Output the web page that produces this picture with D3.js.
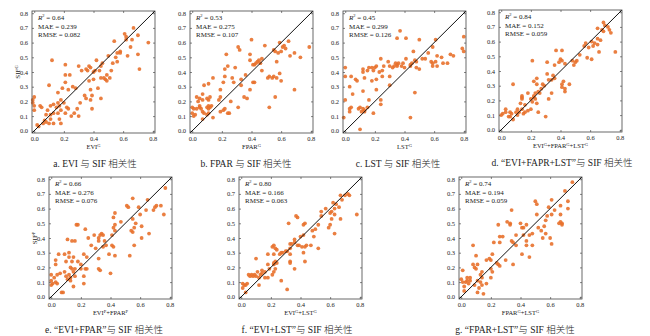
<!DOCTYPE html>
<html>
<head>
<meta charset="utf-8">
<script src="https://cdn.jsdelivr.net/npm/d3@7"></script>
<style>
  html, body { margin: 0; padding: 0; background: #fff; }
  svg { display: block; }
  text { font-family: "Liberation Serif", "Noto Sans CJK SC", serif; fill: #222; }
</style>
</head>
<body>
<svg id="chart" width="650" height="336"></svg>
<script>
// Observed vs. predicted SIF for each predictor combination, [predicted, observed]
const ptsEVI = [[0.77,0.60],[0.70,0.65],[0.67,0.70],[0.61,0.66],[0.62,0.64],[0.62,0.62],[0.65,0.57],[0.66,0.62],[0.70,0.52],[0.71,0.42],[0.63,0.51],[0.54,0.61],[0.58,0.54],[0.58,0.53],[0.56,0.53],[0.55,0.50],[0.56,0.47],[0.53,0.46],[0.50,0.51],[0.46,0.46],[0.45,0.44],[0.42,0.48],[0.41,0.41],[0.40,0.40],[0.44,0.41],[0.37,0.44],[0.38,0.43],[0.35,0.42],[0.36,0.41],[0.32,0.41],[0.30,0.44],[0.37,0.34],[0.40,0.35],[0.45,0.36],[0.48,0.35],[0.49,0.34],[0.51,0.36],[0.49,0.38],[0.43,0.29],[0.38,0.28],[0.39,0.24],[0.38,0.21],[0.35,0.22],[0.45,0.22],[0.39,0.15],[0.31,0.19],[0.26,0.30],[0.28,0.29],[0.23,0.28],[0.21,0.45],[0.21,0.38],[0.24,0.38],[0.21,0.33],[0.19,0.29],[0.16,0.26],[0.10,0.31],[0.12,0.48],[0.18,0.21],[0.16,0.19],[0.13,0.18],[0.11,0.17],[0.15,0.16],[0.17,0.17],[0.20,0.19],[0.22,0.16],[0.23,0.15],[0.25,0.10],[0.21,0.12],[0.18,0.14],[0.16,0.12],[0.13,0.12],[0.11,0.11],[0.09,0.14],[0.08,0.11],[0.11,0.08],[0.13,0.05],[0.18,0.05],[0.17,0.08],[0.07,0.07],[0.06,0.05],[0.03,0.03],[0.02,0.04],[0.04,0.17],[0.05,0.16],[-0.01,0.21],[-0.01,0.19],[0.00,0.14],[0.00,0.17],[0.00,0.23],[0.08,0.06],[0.10,0.05],[0.29,0.15],[0.30,0.10],[0.27,0.12],[0.34,0.24],[0.52,0.41],[0.47,0.36]];
const ptsFPAR = [[0.79,0.57],[0.73,0.50],[0.69,0.53],[0.66,0.51],[0.69,0.28],[0.65,0.61],[0.61,0.57],[0.62,0.58],[0.59,0.60],[0.60,0.54],[0.63,0.56],[0.58,0.53],[0.56,0.54],[0.55,0.55],[0.57,0.47],[0.59,0.39],[0.60,0.34],[0.57,0.36],[0.55,0.37],[0.54,0.36],[0.52,0.37],[0.51,0.36],[0.52,0.16],[0.56,0.23],[0.47,0.41],[0.49,0.58],[0.47,0.49],[0.45,0.48],[0.46,0.46],[0.44,0.47],[0.43,0.46],[0.42,0.45],[0.41,0.45],[0.39,0.48],[0.39,0.52],[0.40,0.62],[0.41,0.33],[0.39,0.28],[0.42,0.33],[0.37,0.22],[0.35,0.23],[0.36,0.38],[0.33,0.35],[0.33,0.31],[0.31,0.57],[0.32,0.55],[0.29,0.43],[0.28,0.33],[0.27,0.36],[0.31,0.16],[0.26,0.20],[0.25,0.12],[0.24,0.12],[0.22,0.15],[0.22,0.42],[0.24,0.44],[0.23,0.52],[0.22,0.37],[0.21,0.33],[0.19,0.28],[0.19,0.23],[0.18,0.21],[0.19,0.13],[0.21,0.14],[0.14,0.36],[0.08,0.31],[0.07,0.25],[0.11,0.32],[0.12,0.23],[0.11,0.21],[0.10,0.22],[0.07,0.21],[0.05,0.22],[0.04,0.20],[0.03,0.23],[0.11,0.17],[0.10,0.16],[0.12,0.16],[0.11,0.15],[0.13,0.17],[0.14,0.09],[0.11,0.12],[0.07,0.13],[0.08,0.12],[0.06,0.15],[0.05,0.16],[0.01,0.15],[0.00,0.16],[0.00,0.12],[0.01,0.10],[0.02,0.11],[0.07,0.08],[0.10,0.11],[0.05,0.17],[0.03,0.15]];
const ptsLST = [[0.80,0.64],[0.79,0.56],[0.80,0.54],[0.73,0.51],[0.71,0.52],[0.69,0.46],[0.66,0.46],[0.65,0.50],[0.62,0.51],[0.61,0.47],[0.59,0.46],[0.59,0.44],[0.62,0.44],[0.58,0.47],[0.59,0.57],[0.61,0.62],[0.56,0.53],[0.54,0.49],[0.52,0.49],[0.50,0.62],[0.50,0.42],[0.48,0.43],[0.48,0.47],[0.47,0.48],[0.45,0.46],[0.44,0.45],[0.44,0.44],[0.46,0.54],[0.47,0.26],[0.44,0.09],[0.41,0.49],[0.40,0.43],[0.39,0.46],[0.38,0.44],[0.37,0.68],[0.35,0.63],[0.41,0.63],[0.36,0.46],[0.35,0.45],[0.35,0.44],[0.34,0.46],[0.33,0.44],[0.32,0.43],[0.30,0.44],[0.30,0.37],[0.29,0.47],[0.26,0.44],[0.25,0.41],[0.24,0.49],[0.25,0.37],[0.23,0.40],[0.21,0.44],[0.20,0.43],[0.19,0.41],[0.18,0.43],[0.18,0.34],[0.21,0.35],[0.21,0.28],[0.24,0.21],[0.24,0.18],[0.19,0.12],[0.16,0.43],[0.15,0.41],[0.13,0.36],[0.12,0.42],[0.12,0.40],[0.12,0.27],[0.16,0.21],[0.15,0.16],[0.13,0.14],[0.12,0.15],[0.11,0.13],[0.13,0.13],[0.10,0.01],[0.07,0.35],[0.08,0.34],[0.04,0.37],[0.03,0.15],[0.04,0.16],[0.03,0.13],[0.03,0.30],[0.05,0.25],[0.00,0.43],[0.00,0.37],[-0.01,0.09],[0.00,0.21],[0.09,0.15],[0.10,0.16],[0.30,0.31]];
const ptsEFL = [[0.77,0.53],[0.73,0.68],[0.74,0.66],[0.72,0.70],[0.69,0.73],[0.70,0.71],[0.68,0.68],[0.69,0.67],[0.67,0.61],[0.65,0.58],[0.65,0.62],[0.65,0.69],[0.66,0.53],[0.63,0.59],[0.62,0.57],[0.61,0.60],[0.59,0.56],[0.58,0.49],[0.61,0.48],[0.57,0.59],[0.56,0.57],[0.53,0.51],[0.51,0.47],[0.49,0.44],[0.50,0.46],[0.48,0.47],[0.46,0.31],[0.43,0.28],[0.43,0.26],[0.41,0.29],[0.41,0.31],[0.42,0.33],[0.43,0.45],[0.41,0.47],[0.41,0.54],[0.40,0.48],[0.39,0.46],[0.37,0.54],[0.36,0.44],[0.35,0.37],[0.36,0.35],[0.34,0.34],[0.34,0.25],[0.32,0.21],[0.31,0.38],[0.32,0.34],[0.31,0.46],[0.30,0.09],[0.28,0.31],[0.29,0.30],[0.27,0.28],[0.26,0.25],[0.25,0.26],[0.24,0.31],[0.23,0.21],[0.22,0.23],[0.23,0.25],[0.22,0.22],[0.20,0.21],[0.21,0.47],[0.22,0.33],[0.24,0.35],[0.21,0.19],[0.24,0.18],[0.25,0.12],[0.18,0.25],[0.16,0.17],[0.14,0.23],[0.14,0.22],[0.14,0.21],[0.13,0.18],[0.14,0.14],[0.11,0.14],[0.10,0.12],[0.08,0.31],[0.11,0.10],[0.07,0.11],[0.06,0.09],[0.05,0.09],[0.06,0.12],[0.03,0.12],[0.03,0.14],[0.01,0.11],[0.00,0.10],[0.08,0.07],[0.18,0.13],[0.16,0.12],[0.20,0.14],[0.12,0.12],[0.15,0.11]];
const ptsEF = [[0.77,0.74],[0.76,0.56],[0.74,0.62],[0.71,0.62],[0.70,0.61],[0.69,0.59],[0.65,0.66],[0.64,0.59],[0.66,0.43],[0.61,0.40],[0.61,0.48],[0.60,0.56],[0.59,0.61],[0.57,0.50],[0.56,0.47],[0.55,0.44],[0.54,0.45],[0.55,0.53],[0.55,0.67],[0.52,0.61],[0.51,0.62],[0.56,0.35],[0.53,0.28],[0.47,0.51],[0.43,0.57],[0.42,0.54],[0.43,0.49],[0.42,0.47],[0.43,0.45],[0.41,0.42],[0.41,0.35],[0.42,0.34],[0.43,0.28],[0.39,0.29],[0.40,0.16],[0.37,0.35],[0.36,0.38],[0.35,0.34],[0.34,0.43],[0.35,0.42],[0.33,0.42],[0.32,0.40],[0.32,0.38],[0.30,0.33],[0.32,0.26],[0.32,0.19],[0.33,0.18],[0.29,0.42],[0.27,0.35],[0.25,0.40],[0.23,0.46],[0.22,0.29],[0.23,0.19],[0.24,0.19],[0.22,0.14],[0.22,0.09],[0.20,0.22],[0.18,0.24],[0.17,0.49],[0.18,0.49],[0.16,0.38],[0.14,0.38],[0.15,0.27],[0.14,0.24],[0.11,0.39],[0.12,0.30],[0.12,0.27],[0.10,0.24],[0.09,0.29],[0.13,0.20],[0.14,0.19],[0.15,0.17],[0.16,0.14],[0.16,0.19],[0.12,0.15],[0.10,0.14],[0.11,0.12],[0.13,0.13],[0.13,0.11],[0.09,0.17],[0.06,0.16],[0.05,0.29],[0.03,0.25],[0.03,0.22],[0.04,0.15],[0.02,0.13],[0.00,0.15],[0.00,0.11],[0.01,0.09],[0.00,0.08],[0.03,0.10],[0.04,0.09],[0.07,0.03],[0.08,0.03],[0.15,0.07],[0.20,0.19],[0.24,0.27]];
const ptsEL = [[0.78,0.56],[0.73,0.69],[0.72,0.70],[0.70,0.69],[0.67,0.69],[0.68,0.66],[0.64,0.63],[0.66,0.61],[0.63,0.60],[0.61,0.58],[0.60,0.57],[0.62,0.64],[0.67,0.53],[0.63,0.56],[0.61,0.53],[0.60,0.49],[0.59,0.47],[0.63,0.43],[0.57,0.60],[0.54,0.58],[0.54,0.55],[0.52,0.49],[0.50,0.46],[0.49,0.41],[0.48,0.45],[0.52,0.33],[0.47,0.35],[0.44,0.35],[0.43,0.34],[0.42,0.30],[0.43,0.24],[0.41,0.34],[0.39,0.35],[0.38,0.35],[0.43,0.50],[0.42,0.49],[0.42,0.42],[0.40,0.41],[0.38,0.54],[0.37,0.55],[0.36,0.39],[0.36,0.37],[0.34,0.36],[0.33,0.36],[0.33,0.33],[0.31,0.31],[0.32,0.50],[0.33,0.29],[0.33,0.24],[0.33,0.23],[0.36,0.19],[0.31,0.05],[0.30,0.31],[0.28,0.30],[0.27,0.30],[0.26,0.29],[0.24,0.32],[0.23,0.33],[0.22,0.35],[0.21,0.34],[0.22,0.29],[0.23,0.24],[0.22,0.22],[0.22,0.23],[0.24,0.23],[0.23,0.19],[0.22,0.17],[0.21,0.15],[0.18,0.22],[0.18,0.29],[0.18,0.13],[0.16,0.17],[0.14,0.18],[0.14,0.16],[0.13,0.15],[0.12,0.13],[0.11,0.17],[0.10,0.14],[0.10,0.26],[0.12,0.08],[0.09,0.15],[0.08,0.14],[0.07,0.15],[0.06,0.14],[0.05,0.15],[0.04,0.09],[0.03,0.08],[0.01,0.09],[0.01,0.06],[0.02,0.08],[0.03,0.03],[0.27,0.11],[0.16,0.13],[0.19,0.19]];
const ptsFL = [[0.75,0.78],[0.70,0.72],[0.72,0.65],[0.72,0.60],[0.67,0.62],[0.67,0.56],[0.68,0.50],[0.68,0.49],[0.67,0.51],[0.66,0.50],[0.63,0.59],[0.61,0.66],[0.59,0.61],[0.61,0.56],[0.58,0.55],[0.57,0.52],[0.56,0.48],[0.60,0.40],[0.61,0.36],[0.57,0.43],[0.55,0.40],[0.54,0.45],[0.52,0.47],[0.51,0.63],[0.50,0.65],[0.51,0.56],[0.48,0.43],[0.46,0.42],[0.48,0.35],[0.44,0.38],[0.44,0.35],[0.46,0.27],[0.41,0.29],[0.41,0.47],[0.42,0.47],[0.44,0.49],[0.40,0.50],[0.42,0.42],[0.37,0.42],[0.37,0.35],[0.35,0.37],[0.34,0.38],[0.34,0.59],[0.33,0.49],[0.33,0.50],[0.31,0.51],[0.35,0.22],[0.30,0.25],[0.28,0.41],[0.26,0.41],[0.26,0.37],[0.25,0.49],[0.22,0.37],[0.25,0.22],[0.26,0.21],[0.24,0.23],[0.21,0.29],[0.20,0.25],[0.19,0.26],[0.20,0.19],[0.21,0.17],[0.20,0.13],[0.17,0.25],[0.17,0.09],[0.15,0.02],[0.14,0.13],[0.14,0.17],[0.13,0.15],[0.13,0.10],[0.14,0.08],[0.12,0.06],[0.11,0.11],[0.11,0.22],[0.10,0.19],[0.10,0.28],[0.09,0.20],[0.08,0.22],[0.08,0.35],[0.06,0.13],[0.06,0.11],[0.04,0.11],[0.04,0.13],[0.03,0.10],[0.05,0.09],[0.02,0.07],[0.02,0.04],[0.01,0.18],[0.00,0.12],[0.01,0.10],[0.09,0.08],[0.11,0.03]];

const panelTitles = [
  "a. EVI 与 SIF 相关性",
  "b. FPAR 与 SIF 相关性",
  "c. LST 与 SIF 相关性",
  "d. “EVI+FAPR+LST”与 SIF 相关性",
  "e. “EVI+FPAR”与 SIF 相关性",
  "f. “EVI+LST”与 SIF 相关性",
  "g. “FPAR+LST”与 SIF 相关性"
];
// x-axis label terms: [base, superscript]
const xLabelTerms = [
  [["EVI","G"]],
  [["FPAR","G"]],
  [["LST","G"]],
  [["EVI","G"],["FPAR","G"],["LST","G"]],
  [["EVI","P"],["FPAR","P"]],
  [["EVI","G"],["LST","G"]],
  [["FPAR","G"],["LST","G"]]
];
const yLabels = [["SIF","G"], null, null, null, ["SIF","P"], null, null];
const r2Values   = [0.64, 0.53, 0.45, 0.84, 0.66, 0.80, 0.74];
const maeValues  = [0.239, 0.275, 0.299, 0.152, 0.276, 0.166, 0.194];
const rmseValues = [0.082, 0.107, 0.126, 0.059, 0.076, 0.063, 0.059];
const xTickValues = [0, 0.2, 0.4, 0.6, 0.8];
const yTickValues = [0, 0.1, 0.2, 0.3, 0.4, 0.5, 0.6, 0.7, 0.8];
const pointSets = [ptsEVI, ptsFPAR, ptsLST, ptsEFL, ptsEF, ptsEL, ptsFL];

// Panel layout: plot frame origin and the centre of the caption underneath
const layout = [
  {x: 32,  y: 11,  tx: 95},
  {x: 190, y: 11,  tx: 246},
  {x: 343, y: 11,  tx: 398},
  {x: 499, y: 10,  tx: 562},
  {x: 49,  y: 177, tx: 104},
  {x: 239, y: 177, tx: 297},
  {x: 459, y: 177, tx: 515}
];
const W = 123, H = 122;
const domain = [-0.015, 0.815];
const dotColor = "#e8712c";
const fmt = d3.format(".1f");

const svg = d3.select("#chart");

layout.forEach((L, i) => {
  const g = svg.append("g").attr("transform", `translate(${L.x},${L.y})`);
  const x = d3.scaleLinear().domain(domain).range([0, W]);
  const y = d3.scaleLinear().domain(domain).range([H, 0]);

  // Axes with short inward ticks
  const styleAxis = sel => {
    sel.select(".domain").remove();
    sel.selectAll(".tick line").attr("stroke", "#333").attr("stroke-width", 0.6);
    sel.selectAll(".tick text").attr("font-size", "6.5px")
      .attr("font-family", "Liberation Serif, serif").attr("fill", "#333");
  };
  g.append("g").attr("transform", `translate(0,${H})`)
    .call(d3.axisBottom(x).tickValues(xTickValues).tickSize(-2).tickPadding(3).tickFormat(fmt))
    .call(styleAxis);
  g.append("g")
    .call(d3.axisLeft(y).tickValues(yTickValues).tickSize(-2).tickPadding(4).tickFormat(fmt))
    .call(styleAxis);
  g.append("g")
    .call(d3.axisTop(x).tickValues(xTickValues).tickSize(-2).tickFormat(""))
    .call(styleAxis);
  g.append("g").attr("transform", `translate(${W},0)`)
    .call(d3.axisRight(y).tickValues(yTickValues).tickSize(-2).tickFormat(""))
    .call(styleAxis);

  // Points
  g.append("g").selectAll("circle")
    .data(pointSets[i])
    .join("circle")
    .attr("cx", d => x(d[0]))
    .attr("cy", d => y(d[1]))
    .attr("r", 1.9)
    .attr("fill", dotColor)
    .attr("fill-opacity", 0.9);

  // 1:1 line
  g.append("line")
    .attr("x1", x(domain[0])).attr("y1", y(domain[0]))
    .attr("x2", x(domain[1])).attr("y2", y(domain[1]))
    .attr("stroke", "#111").attr("stroke-width", 1);

  // Frame
  g.append("rect").attr("width", W).attr("height", H)
    .attr("fill", "none").attr("stroke", "#444").attr("stroke-width", 0.8);

  // Statistics
  const st = g.append("g").attr("font-size", "7px");
  const t1 = st.append("text").attr("x", 6).attr("y", 9);
  t1.append("tspan").attr("font-style", "italic").text("R");
  t1.append("tspan").attr("font-size", "4.5px").attr("dy", -3).text("2");
  t1.append("tspan").attr("dy", 3).text(" = " + r2Values[i].toFixed(2));
  st.append("text").attr("x", 6).attr("y", 17.5).text("MAE = " + maeValues[i].toFixed(3));
  st.append("text").attr("x", 6).attr("y", 26).text("RMSE = " + rmseValues[i].toFixed(3));

  // x-axis label
  const xl = g.append("text").attr("x", W / 2).attr("y", H + 16)
    .attr("text-anchor", "middle").attr("font-size", "6.5px");
  xLabelTerms[i].forEach((term, k) => {
    xl.append("tspan").attr("dy", k === 0 ? 0 : 2.5).text((k === 0 ? "" : "+") + term[0]);
    xl.append("tspan").attr("font-size", "4.5px").attr("dy", -2.5).text(term[1]);
  });

  // y-axis label
  if (yLabels[i]) {
    const yl = g.append("text")
      .attr("transform", `translate(-12,${H / 2}) rotate(-90)`)
      .attr("text-anchor", "middle").attr("font-size", "7px");
    yl.append("tspan").text(yLabels[i][0]);
    yl.append("tspan").attr("font-size", "4.5px").attr("dy", -2.5).text(yLabels[i][1]);
  }

  // Caption
  svg.append("text")
    .attr("x", L.tx).attr("y", L.y + H + 34)
    .attr("text-anchor", "middle")
    .attr("font-size", "9.5px")
    .attr("font-weight", 300)
    .text(panelTitles[i]);
});
</script>
</body>
</html>
